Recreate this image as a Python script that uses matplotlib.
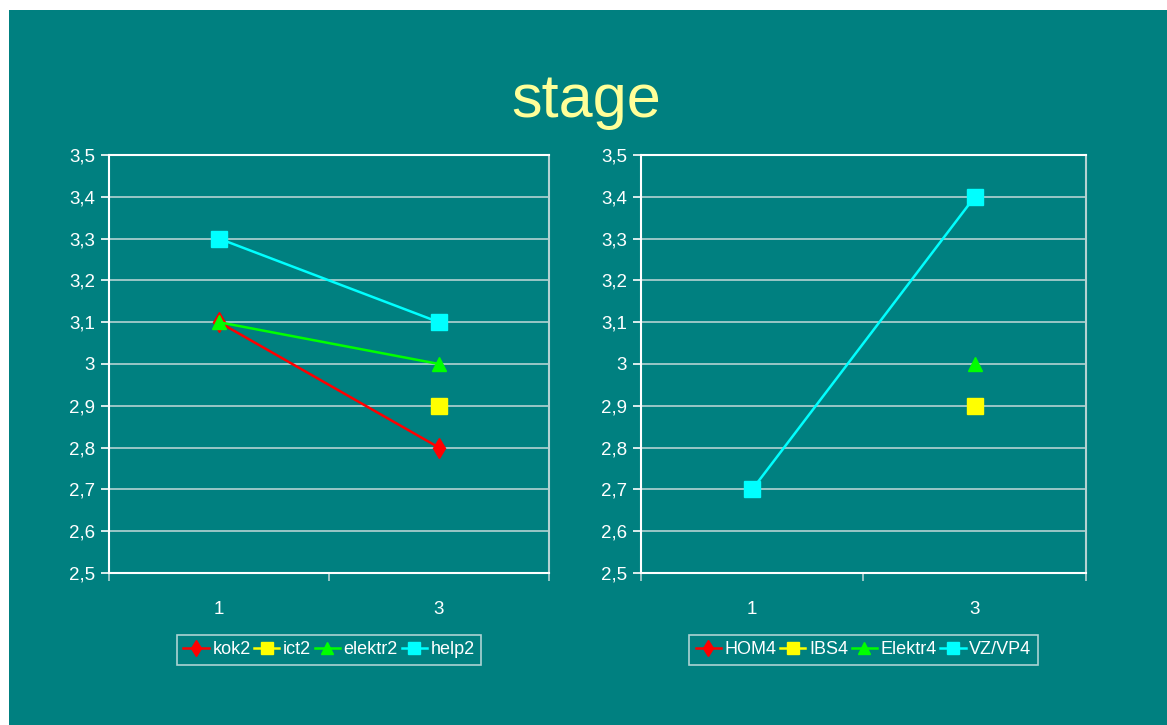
import numpy as np
import matplotlib
matplotlib.use("Agg")
import matplotlib.pyplot as plt
from matplotlib.patches import Rectangle

plt.rcParams['font.family'] = ['Liberation Sans', 'DejaVu Sans']

title = "stage"
categories = ["1", "3"]
yticks = [2.5, 2.6, 2.7, 2.8, 2.9, 3.0, 3.1, 3.2, 3.3, 3.4, 3.5]
ytick_labels = ["2,5", "2,6", "2,7", "2,8", "2,9", "3", "3,1", "3,2", "3,3", "3,4", "3,5"]

left_names = ["kok2", "ict2", "elektr2", "help2"]
kok2 = [3.1, 2.8]
ict2 = [np.nan, 2.9]
elektr2 = [3.1, 3.0]
help2 = [3.3, 3.1]

right_names = ["HOM4", "IBS4", "Elektr4", "VZ/VP4"]
hom4 = [np.nan, np.nan]
ibs4 = [np.nan, 2.9]
elektr4 = [np.nan, 3.0]
vzvp4 = [2.7, 3.4]

colors = ["#FF0000", "#FFFF00", "#00FF00", "#00FFFF"]
markers = ["d", "s", "^", "s"]
msizes = [10, 11, 10, 11]

TEAL = "#008080"
GRID = "#B4D2D2"

W, H = 1167, 725
fig = plt.figure(figsize=(W / 100, H / 100), dpi=100)
fig.patch.set_facecolor("white")
bg = fig.add_axes([9 / W, 0, 1 - 9 / W, (H - 10) / H], zorder=-10)
bg.set_facecolor(TEAL)
bg.set_axis_off()
bg.add_patch(Rectangle((0, 0), 1, 1, transform=bg.transAxes, facecolor=TEAL, edgecolor="none"))

fig.text(586 / W, (H - 102) / H, title, color="#FFFF99", fontsize=44,
         ha="center", va="center")


def draw(rect, names, series):
    ax = fig.add_axes(rect)
    ax.set_facecolor("none")
    x = np.arange(len(categories))
    for name, vals, c, m, ms in zip(names, series, colors, markers, msizes):
        ax.plot(x, vals, color=c, marker=m, markersize=ms, linewidth=1.8,
                markeredgecolor=c, label=name, clip_on=False, zorder=3)
    ax.set_xlim(-0.5, len(categories) - 0.5)
    ax.set_ylim(2.5, 3.5)
    ax.set_yticks(yticks)
    ax.set_yticklabels(ytick_labels)
    ax.set_xticks(x)
    ax.set_xticklabels(categories)
    ax.set_xticks([-0.5, 0.5, 1.5], minor=True)
    ax.tick_params(axis="x", which="major", length=0, pad=20, colors="white", labelsize=13.5)
    ax.tick_params(axis="x", which="minor", length=6, width=1.2, color=GRID, direction="out")
    ax.tick_params(axis="y", length=6, width=1.2, colors="white", labelsize=13.5, pad=4)
    ax.grid(axis="y", color=GRID, linewidth=1.2, zorder=1)
    ax.set_axisbelow(True)
    ax.spines["left"].set_color("white")
    ax.spines["bottom"].set_color("white")
    ax.spines["top"].set_color("white")
    ax.spines["right"].set_color(GRID)
    for s in ax.spines.values():
        s.set_linewidth(1.5)
    leg = ax.legend(loc="upper center", bbox_to_anchor=(0.5, -0.148), ncol=4,
                    frameon=True, fancybox=False, fontsize=13, handlelength=1.4,
                    handletextpad=0.2, columnspacing=0.2, borderpad=0.35,
                    markerscale=0.85, labelcolor="white", borderaxespad=0)
    leg.get_frame().set_facecolor("none")
    leg.get_frame().set_edgecolor("#D8E8E8")
    leg.get_frame().set_linewidth(1.2)
    return ax


draw([109 / W, 152 / H, 440 / W, 418 / H], left_names, [kok2, ict2, elektr2, help2])
draw([641 / W, 152 / H, 445 / W, 418 / H], right_names, [hom4, ibs4, elektr4, vzvp4])

fig.savefig("out.png", dpi=100, facecolor=fig.get_facecolor())
